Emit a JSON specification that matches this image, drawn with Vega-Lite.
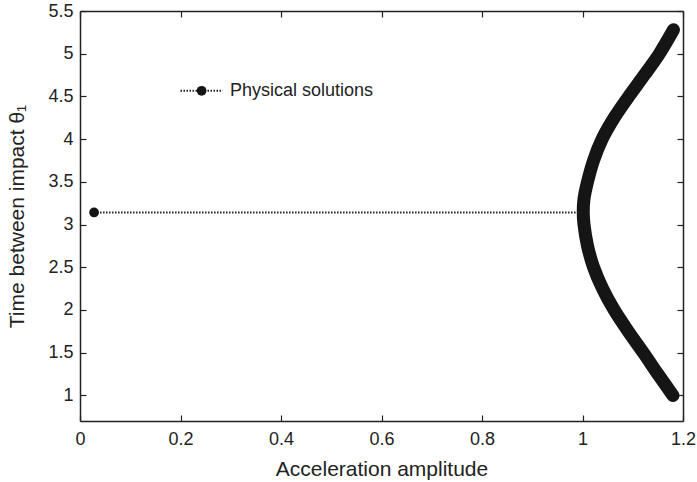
{
  "$schema": "https://vega.github.io/schema/vega-lite/v6.json",
  "autosize": "none",
  "width": 603,
  "height": 410,
  "padding": {"left": 80, "top": 11, "right": 14, "bottom": 61},
  "background": "white",
  "config": {
    "view": {"stroke": null},
    "font": "Liberation Sans",
    "axis": {
      "grid": false,
      "domainColor": "#222",
      "domainWidth": 1.5,
      "tickColor": "#222",
      "tickWidth": 1.2,
      "tickSize": -6,
      "labelFlush": false,
      "labelFont": "Liberation Sans",
      "labelFontSize": 18,
      "labelColor": "#222",
      "titleFont": "Liberation Sans",
      "titleFontSize": 21,
      "titleFontWeight": "normal",
      "titleColor": "#222"
    }
  },
  "datasets": {
    "curve": [
      {"a": 1.180, "t": 0.998},
      {"a": 1.150, "t": 1.25},
      {"a": 1.121, "t": 1.5},
      {"a": 1.091, "t": 1.75},
      {"a": 1.063, "t": 2.0},
      {"a": 1.040, "t": 2.25},
      {"a": 1.022, "t": 2.5},
      {"a": 1.010, "t": 2.75},
      {"a": 1.003, "t": 3.0},
      {"a": 1.0015, "t": 3.14},
      {"a": 1.003, "t": 3.3},
      {"a": 1.010, "t": 3.5},
      {"a": 1.022, "t": 3.75},
      {"a": 1.039, "t": 4.0},
      {"a": 1.063, "t": 4.25},
      {"a": 1.092, "t": 4.5},
      {"a": 1.123, "t": 4.75},
      {"a": 1.153, "t": 5.0},
      {"a": 1.181, "t": 5.28}
    ],
    "flat": [
      {"a": 0.028, "t": 3.1416},
      {"a": 1.0, "t": 3.1416}
    ],
    "flatdot": [
      {"a": 0.028, "t": 3.1416}
    ],
    "legline": [
      {"a": 0.2, "t": 4.566},
      {"a": 0.284, "t": 4.566}
    ],
    "legdot": [
      {"a": 0.242, "t": 4.566, "label": "Physical solutions", "ta": 0.2985}
    ]
  },
  "layer": [
    {
      "data": {"name": "curve"},
      "mark": {"type": "line", "color": "#151515", "strokeWidth": 13, "strokeCap": "round", "strokeJoin": "round", "interpolate": "catmull-rom"},
      "encoding": {
        "x": {
          "field": "a", "type": "quantitative",
          "scale": {"domain": [0, 1.2], "nice": false, "zero": false},
          "axis": {
            "orient": "bottom",
            "values": [0, 0.2, 0.4, 0.6, 0.8, 1, 1.2],
            "format": "~g",
            "labelPadding": 15,
            "title": "Acceleration amplitude",
            "titleBaseline": "alphabetic",
            "titleY": 54
          }
        },
        "y": {
          "field": "t", "type": "quantitative",
          "scale": {"domain": [0.7, 5.5], "nice": false, "zero": false},
          "axis": {
            "orient": "left",
            "values": [1, 1.5, 2, 2.5, 3, 3.5, 4, 4.5, 5, 5.5],
            "format": "~g",
            "labelPadding": 13,
            "title": "Time between impact θ₁",
            "titleBaseline": "alphabetic",
            "titleX": -57
          }
        },
        "order": {"field": "t", "type": "quantitative"}
      }
    },
    {
      "data": {"name": "flat"},
      "mark": {"type": "line", "color": "#222", "strokeWidth": 2, "strokeDash": [1.5, 1.5]},
      "encoding": {
        "x": {"field": "a", "type": "quantitative",
          "axis": {"orient": "top", "values": [0, 0.2, 0.4, 0.6, 0.8, 1, 1.2], "labels": false, "title": null}},
        "y": {"field": "t", "type": "quantitative",
          "axis": {"orient": "right", "values": [1, 1.5, 2, 2.5, 3, 3.5, 4, 4.5, 5, 5.5], "labels": false, "title": null}}
      }
    },
    {
      "data": {"name": "flatdot"},
      "mark": {"type": "point", "filled": true, "shape": "circle", "color": "#151515", "size": 95, "opacity": 1},
      "encoding": {
        "x": {"field": "a", "type": "quantitative", "axis": null},
        "y": {"field": "t", "type": "quantitative", "axis": null}
      }
    },
    {
      "data": {"name": "legline"},
      "mark": {"type": "line", "color": "#222", "strokeWidth": 2, "strokeDash": [1.5, 1.5]},
      "encoding": {
        "x": {"field": "a", "type": "quantitative", "axis": null},
        "y": {"field": "t", "type": "quantitative", "axis": null}
      }
    },
    {
      "data": {"name": "legdot"},
      "mark": {"type": "point", "filled": true, "shape": "circle", "color": "#151515", "size": 95, "opacity": 1},
      "encoding": {
        "x": {"field": "a", "type": "quantitative", "axis": null},
        "y": {"field": "t", "type": "quantitative", "axis": null}
      }
    },
    {
      "data": {"name": "legdot"},
      "mark": {"type": "text", "align": "left", "baseline": "middle", "font": "Liberation Sans", "fontSize": 18, "color": "#222"},
      "encoding": {
        "x": {"field": "ta", "type": "quantitative", "axis": null},
        "y": {"field": "t", "type": "quantitative", "axis": null},
        "text": {"field": "label"}
      }
    }
  ],
  "resolve": {"axis": {"x": "independent", "y": "independent"}}
}
